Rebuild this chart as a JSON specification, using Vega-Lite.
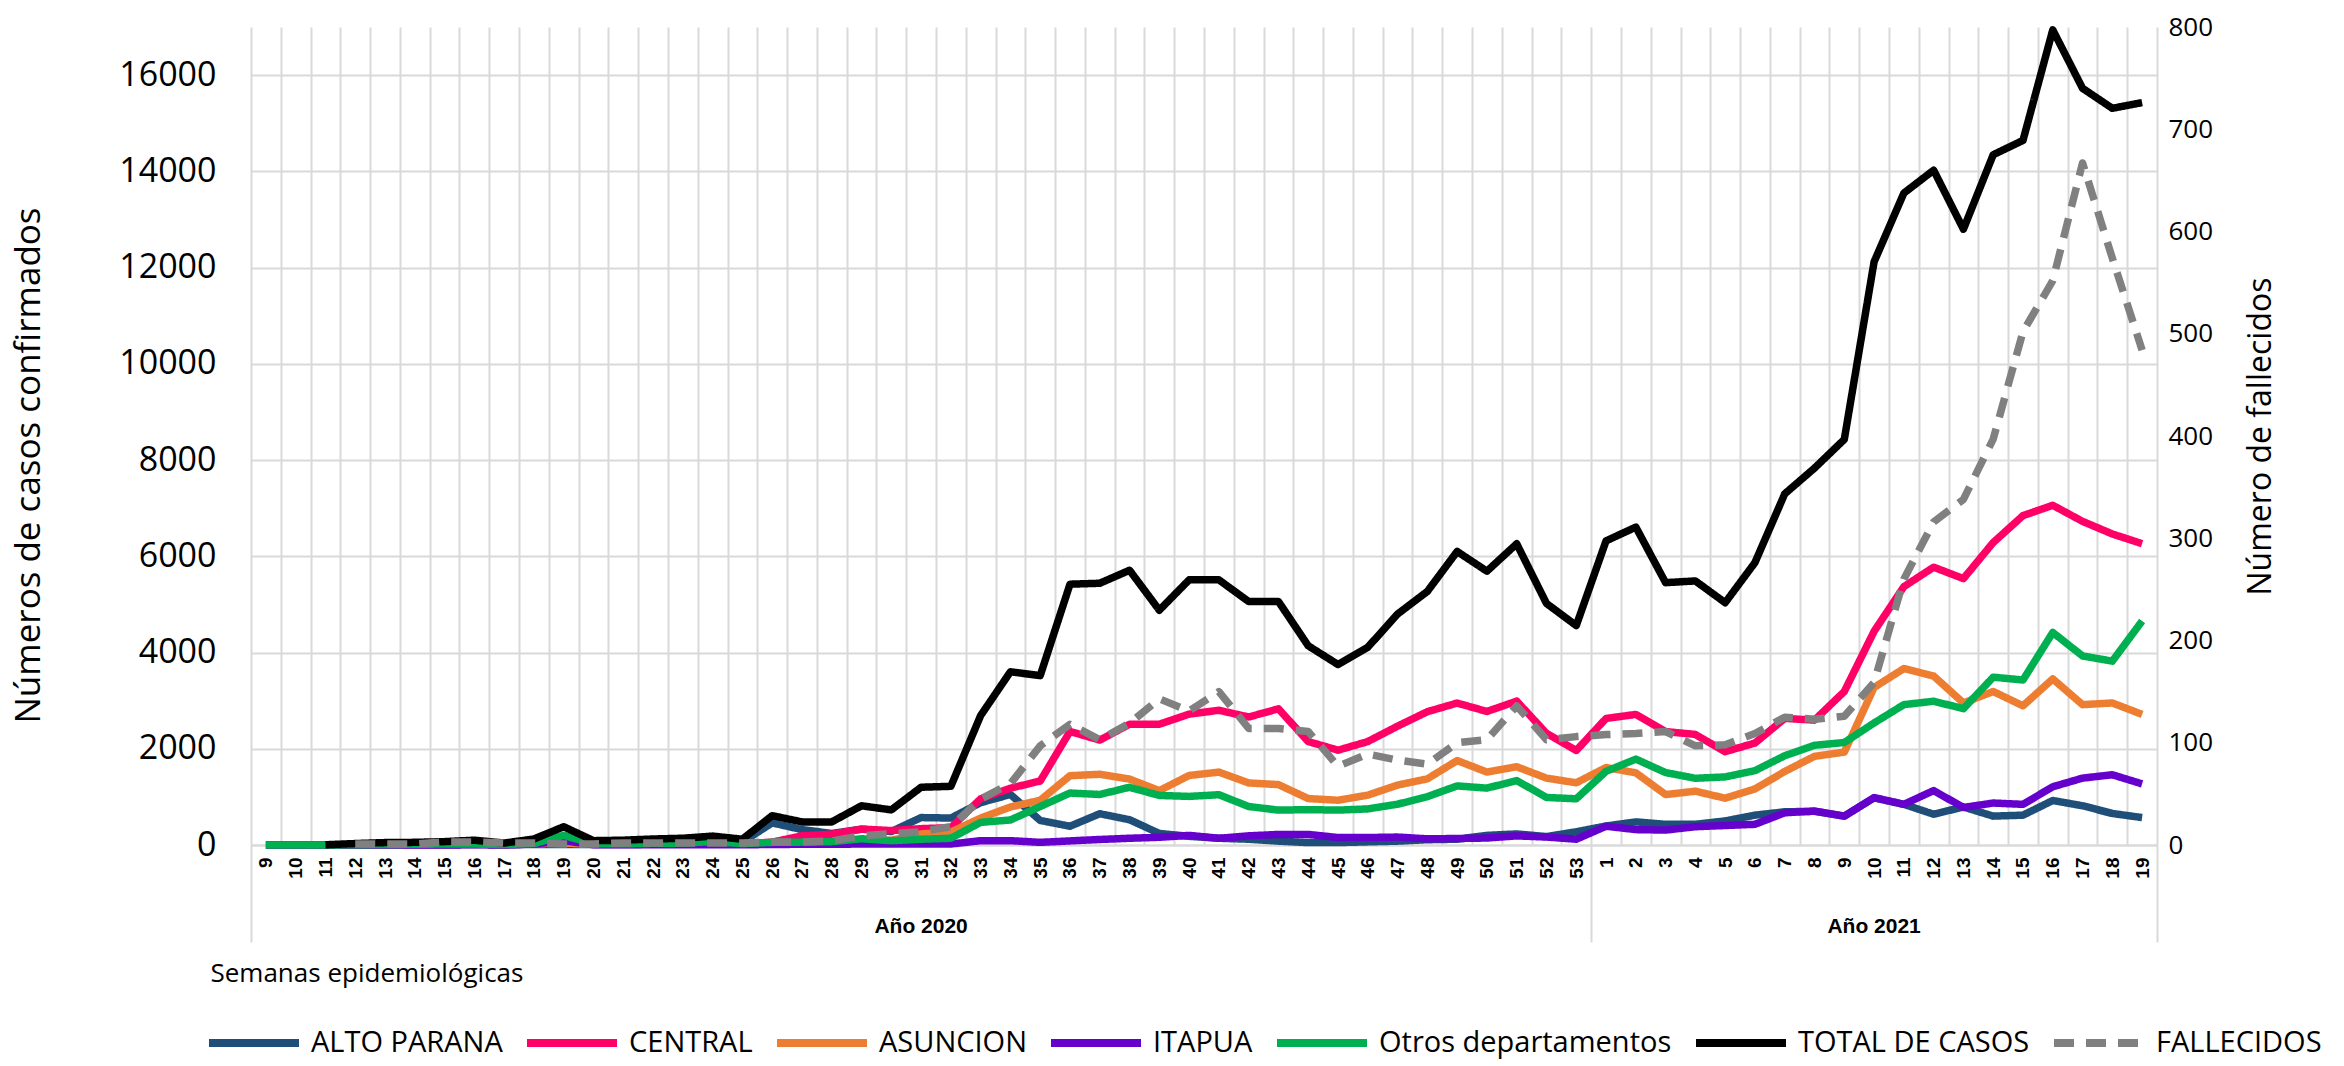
{
  "$schema": "https://vega.github.io/schema/vega-lite/v6.json",
  "width": 1906,
  "height": 818,
  "autosize": {"type": "none"},
  "padding": {"left": 251, "top": 27, "right": 187, "bottom": 221},
  "background": "white",
  "config": {
    "view": {"stroke": null},
    "font": "Open Sans",
    "axis": {"gridColor": "#D9D9D9", "gridWidth": 2, "domainColor": "#D9D9D9", "domainWidth": 2, "tickColor": "#D9D9D9", "labelColor": "#000000", "titleColor": "#000000", "titleFontWeight": "normal"},
    "legend": {"symbolType": "stroke", "symbolSize": 8100, "symbolStrokeWidth": 8, "labelFontSize": 29, "labelFont": "Open Sans", "labelColor": "#000000", "labelLimit": 0, "columnPadding": 8, "labelOffset": 8, "padding": 0}
  },
  "data": {"values": [
    {"sem": "2020-9", "ALTO PARANA": 0, "CENTRAL": 0, "ASUNCION": 0, "ITAPUA": 0, "Otros departamentos": 0, "TOTAL DE CASOS": null, "FALLECIDOS": null},
    {"sem": "2020-10", "ALTO PARANA": 0, "CENTRAL": 0, "ASUNCION": 0, "ITAPUA": 0, "Otros departamentos": 0, "TOTAL DE CASOS": null, "FALLECIDOS": null},
    {"sem": "2020-11", "ALTO PARANA": 0, "CENTRAL": 0, "ASUNCION": 0, "ITAPUA": 0, "Otros departamentos": 0, "TOTAL DE CASOS": 5, "FALLECIDOS": null},
    {"sem": "2020-12", "ALTO PARANA": 0, "CENTRAL": 10, "ASUNCION": 10, "ITAPUA": 0, "Otros departamentos": 5, "TOTAL DE CASOS": 30, "FALLECIDOS": 1},
    {"sem": "2020-13", "ALTO PARANA": 5, "CENTRAL": 15, "ASUNCION": 15, "ITAPUA": 0, "Otros departamentos": 10, "TOTAL DE CASOS": 50, "FALLECIDOS": 1},
    {"sem": "2020-14", "ALTO PARANA": 5, "CENTRAL": 15, "ASUNCION": 15, "ITAPUA": 0, "Otros departamentos": 15, "TOTAL DE CASOS": 55, "FALLECIDOS": 1},
    {"sem": "2020-15", "ALTO PARANA": 5, "CENTRAL": 20, "ASUNCION": 20, "ITAPUA": 0, "Otros departamentos": 20, "TOTAL DE CASOS": 70, "FALLECIDOS": 3},
    {"sem": "2020-16", "ALTO PARANA": 10, "CENTRAL": 30, "ASUNCION": 30, "ITAPUA": 5, "Otros departamentos": 20, "TOTAL DE CASOS": 100, "FALLECIDOS": 3},
    {"sem": "2020-17", "ALTO PARANA": 5, "CENTRAL": 10, "ASUNCION": 10, "ITAPUA": 0, "Otros departamentos": 10, "TOTAL DE CASOS": 40, "FALLECIDOS": 2},
    {"sem": "2020-18", "ALTO PARANA": 10, "CENTRAL": 30, "ASUNCION": 30, "ITAPUA": 20, "Otros departamentos": 30, "TOTAL DE CASOS": 125, "FALLECIDOS": 2},
    {"sem": "2020-19", "ALTO PARANA": 10, "CENTRAL": 40, "ASUNCION": 40, "ITAPUA": 90, "Otros departamentos": 200, "TOTAL DE CASOS": 380, "FALLECIDOS": 1},
    {"sem": "2020-20", "ALTO PARANA": 10, "CENTRAL": 25, "ASUNCION": 20, "ITAPUA": 5, "Otros departamentos": 25, "TOTAL DE CASOS": 90, "FALLECIDOS": 1},
    {"sem": "2020-21", "ALTO PARANA": 10, "CENTRAL": 30, "ASUNCION": 25, "ITAPUA": 5, "Otros departamentos": 25, "TOTAL DE CASOS": 100, "FALLECIDOS": 2},
    {"sem": "2020-22", "ALTO PARANA": 15, "CENTRAL": 35, "ASUNCION": 30, "ITAPUA": 5, "Otros departamentos": 35, "TOTAL DE CASOS": 125, "FALLECIDOS": 2},
    {"sem": "2020-23", "ALTO PARANA": 20, "CENTRAL": 40, "ASUNCION": 30, "ITAPUA": 5, "Otros departamentos": 40, "TOTAL DE CASOS": 140, "FALLECIDOS": 2},
    {"sem": "2020-24", "ALTO PARANA": 50, "CENTRAL": 45, "ASUNCION": 30, "ITAPUA": 5, "Otros departamentos": 70, "TOTAL DE CASOS": 185, "FALLECIDOS": 2},
    {"sem": "2020-25", "ALTO PARANA": 60, "CENTRAL": 20, "ASUNCION": 15, "ITAPUA": 5, "Otros departamentos": 30, "TOTAL DE CASOS": 120, "FALLECIDOS": 2},
    {"sem": "2020-26", "ALTO PARANA": 460, "CENTRAL": 60, "ASUNCION": 30, "ITAPUA": 10, "Otros departamentos": 55, "TOTAL DE CASOS": 610, "FALLECIDOS": 3},
    {"sem": "2020-27", "ALTO PARANA": 320, "CENTRAL": 190, "ASUNCION": 40, "ITAPUA": 15, "Otros departamentos": 60, "TOTAL DE CASOS": 480, "FALLECIDOS": 3},
    {"sem": "2020-28", "ALTO PARANA": 240, "CENTRAL": 225, "ASUNCION": 50, "ITAPUA": 15, "Otros departamentos": 70, "TOTAL DE CASOS": 480, "FALLECIDOS": 4},
    {"sem": "2020-29", "ALTO PARANA": 330, "CENTRAL": 330, "ASUNCION": 80, "ITAPUA": 20, "Otros departamentos": 130, "TOTAL DE CASOS": 815, "FALLECIDOS": 9},
    {"sem": "2020-30", "ALTO PARANA": 280, "CENTRAL": 300, "ASUNCION": 100, "ITAPUA": 20, "Otros departamentos": 90, "TOTAL DE CASOS": 730, "FALLECIDOS": 11},
    {"sem": "2020-31", "ALTO PARANA": 570, "CENTRAL": 340, "ASUNCION": 230, "ITAPUA": 20, "Otros departamentos": 120, "TOTAL DE CASOS": 1200, "FALLECIDOS": 13},
    {"sem": "2020-32", "ALTO PARANA": 560, "CENTRAL": 360, "ASUNCION": 270, "ITAPUA": 20, "Otros departamentos": 140, "TOTAL DE CASOS": 1220, "FALLECIDOS": 18},
    {"sem": "2020-33", "ALTO PARANA": 880, "CENTRAL": 960, "ASUNCION": 560, "ITAPUA": 90, "Otros departamentos": 470, "TOTAL DE CASOS": 2690, "FALLECIDOS": 45},
    {"sem": "2020-34", "ALTO PARANA": 1050, "CENTRAL": 1180, "ASUNCION": 790, "ITAPUA": 90, "Otros departamentos": 520, "TOTAL DE CASOS": 3600, "FALLECIDOS": 60},
    {"sem": "2020-35", "ALTO PARANA": 510, "CENTRAL": 1330, "ASUNCION": 930, "ITAPUA": 55, "Otros departamentos": 800, "TOTAL DE CASOS": 3520, "FALLECIDOS": 97},
    {"sem": "2020-36", "ALTO PARANA": 390, "CENTRAL": 2360, "ASUNCION": 1440, "ITAPUA": 85, "Otros departamentos": 1080, "TOTAL DE CASOS": 5420, "FALLECIDOS": 118},
    {"sem": "2020-37", "ALTO PARANA": 650, "CENTRAL": 2180, "ASUNCION": 1470, "ITAPUA": 115, "Otros departamentos": 1050, "TOTAL DE CASOS": 5440, "FALLECIDOS": 103},
    {"sem": "2020-38", "ALTO PARANA": 525, "CENTRAL": 2510, "ASUNCION": 1370, "ITAPUA": 140, "Otros departamentos": 1200, "TOTAL DE CASOS": 5710, "FALLECIDOS": 119},
    {"sem": "2020-39", "ALTO PARANA": 240, "CENTRAL": 2510, "ASUNCION": 1130, "ITAPUA": 160, "Otros departamentos": 1030, "TOTAL DE CASOS": 4880, "FALLECIDOS": 143},
    {"sem": "2020-40", "ALTO PARANA": 180, "CENTRAL": 2720, "ASUNCION": 1445, "ITAPUA": 200, "Otros departamentos": 1010, "TOTAL DE CASOS": 5510, "FALLECIDOS": 131},
    {"sem": "2020-41", "ALTO PARANA": 140, "CENTRAL": 2800, "ASUNCION": 1515, "ITAPUA": 140, "Otros departamentos": 1045, "TOTAL DE CASOS": 5510, "FALLECIDOS": 150},
    {"sem": "2020-42", "ALTO PARANA": 120, "CENTRAL": 2660, "ASUNCION": 1290, "ITAPUA": 190, "Otros departamentos": 800, "TOTAL DE CASOS": 5060, "FALLECIDOS": 114},
    {"sem": "2020-43", "ALTO PARANA": 80, "CENTRAL": 2830, "ASUNCION": 1255, "ITAPUA": 220, "Otros departamentos": 725, "TOTAL DE CASOS": 5060, "FALLECIDOS": 114},
    {"sem": "2020-44", "ALTO PARANA": 50, "CENTRAL": 2150, "ASUNCION": 965, "ITAPUA": 220, "Otros departamentos": 735, "TOTAL DE CASOS": 4140, "FALLECIDOS": 111},
    {"sem": "2020-45", "ALTO PARANA": 50, "CENTRAL": 1970, "ASUNCION": 930, "ITAPUA": 155, "Otros departamentos": 725, "TOTAL DE CASOS": 3750, "FALLECIDOS": 77},
    {"sem": "2020-46", "ALTO PARANA": 65, "CENTRAL": 2150, "ASUNCION": 1036, "ITAPUA": 155, "Otros departamentos": 750, "TOTAL DE CASOS": 4110, "FALLECIDOS": 89},
    {"sem": "2020-47", "ALTO PARANA": 80, "CENTRAL": 2470, "ASUNCION": 1245, "ITAPUA": 165, "Otros departamentos": 848, "TOTAL DE CASOS": 4800, "FALLECIDOS": 83},
    {"sem": "2020-48", "ALTO PARANA": 110, "CENTRAL": 2770, "ASUNCION": 1375, "ITAPUA": 128, "Otros departamentos": 1005, "TOTAL DE CASOS": 5270, "FALLECIDOS": 79},
    {"sem": "2020-49", "ALTO PARANA": 120, "CENTRAL": 2950, "ASUNCION": 1755, "ITAPUA": 135, "Otros departamentos": 1228, "TOTAL DE CASOS": 6100, "FALLECIDOS": 100},
    {"sem": "2020-50", "ALTO PARANA": 200, "CENTRAL": 2775, "ASUNCION": 1516, "ITAPUA": 145, "Otros departamentos": 1182, "TOTAL DE CASOS": 5690, "FALLECIDOS": 103},
    {"sem": "2020-51", "ALTO PARANA": 230, "CENTRAL": 2990, "ASUNCION": 1627, "ITAPUA": 190, "Otros departamentos": 1340, "TOTAL DE CASOS": 6260, "FALLECIDOS": 136},
    {"sem": "2020-52", "ALTO PARANA": 175, "CENTRAL": 2320, "ASUNCION": 1390, "ITAPUA": 165, "Otros departamentos": 988, "TOTAL DE CASOS": 5020, "FALLECIDOS": 103},
    {"sem": "2020-53", "ALTO PARANA": 275, "CENTRAL": 1964, "ASUNCION": 1293, "ITAPUA": 120, "Otros departamentos": 960, "TOTAL DE CASOS": 4560, "FALLECIDOS": 106},
    {"sem": "2021-1", "ALTO PARANA": 395, "CENTRAL": 2630, "ASUNCION": 1610, "ITAPUA": 390, "Otros departamentos": 1530, "TOTAL DE CASOS": 6320, "FALLECIDOS": 108},
    {"sem": "2021-2", "ALTO PARANA": 480, "CENTRAL": 2714, "ASUNCION": 1500, "ITAPUA": 320, "Otros departamentos": 1785, "TOTAL DE CASOS": 6607, "FALLECIDOS": 109},
    {"sem": "2021-3", "ALTO PARANA": 430, "CENTRAL": 2357, "ASUNCION": 1048, "ITAPUA": 310, "Otros departamentos": 1505, "TOTAL DE CASOS": 5452, "FALLECIDOS": 111},
    {"sem": "2021-4", "ALTO PARANA": 430, "CENTRAL": 2298, "ASUNCION": 1118, "ITAPUA": 380, "Otros departamentos": 1387, "TOTAL DE CASOS": 5488, "FALLECIDOS": 97},
    {"sem": "2021-5", "ALTO PARANA": 500, "CENTRAL": 1940, "ASUNCION": 973, "ITAPUA": 405, "Otros departamentos": 1415, "TOTAL DE CASOS": 5036, "FALLECIDOS": 98},
    {"sem": "2021-6", "ALTO PARANA": 620, "CENTRAL": 2119, "ASUNCION": 1165, "ITAPUA": 430, "Otros departamentos": 1545, "TOTAL DE CASOS": 5869, "FALLECIDOS": 109},
    {"sem": "2021-7", "ALTO PARANA": 690, "CENTRAL": 2631, "ASUNCION": 1528, "ITAPUA": 670, "Otros departamentos": 1855, "TOTAL DE CASOS": 7298, "FALLECIDOS": 125},
    {"sem": "2021-8", "ALTO PARANA": 700, "CENTRAL": 2595, "ASUNCION": 1843, "ITAPUA": 705, "Otros departamentos": 2072, "TOTAL DE CASOS": 7833, "FALLECIDOS": 123},
    {"sem": "2021-9", "ALTO PARANA": 600, "CENTRAL": 3190, "ASUNCION": 1930, "ITAPUA": 600, "Otros departamentos": 2130, "TOTAL DE CASOS": 8429, "FALLECIDOS": 126},
    {"sem": "2021-10", "ALTO PARANA": 980, "CENTRAL": 4440, "ASUNCION": 3274, "ITAPUA": 985, "Otros departamentos": 2536, "TOTAL DE CASOS": 12119, "FALLECIDOS": 159},
    {"sem": "2021-11", "ALTO PARANA": 845, "CENTRAL": 5369, "ASUNCION": 3667, "ITAPUA": 845, "Otros departamentos": 2917, "TOTAL DE CASOS": 13548, "FALLECIDOS": 260},
    {"sem": "2021-12", "ALTO PARANA": 640, "CENTRAL": 5774, "ASUNCION": 3512, "ITAPUA": 1131, "Otros departamentos": 2988, "TOTAL DE CASOS": 14024, "FALLECIDOS": 316},
    {"sem": "2021-13", "ALTO PARANA": 790, "CENTRAL": 5536, "ASUNCION": 2952, "ITAPUA": 780, "Otros departamentos": 2833, "TOTAL DE CASOS": 12798, "FALLECIDOS": 338},
    {"sem": "2021-14", "ALTO PARANA": 600, "CENTRAL": 6286, "ASUNCION": 3190, "ITAPUA": 872, "Otros departamentos": 3488, "TOTAL DE CASOS": 14345, "FALLECIDOS": 397},
    {"sem": "2021-15", "ALTO PARANA": 620, "CENTRAL": 6845, "ASUNCION": 2893, "ITAPUA": 845, "Otros departamentos": 3429, "TOTAL DE CASOS": 14643, "FALLECIDOS": 502},
    {"sem": "2021-16", "ALTO PARANA": 925, "CENTRAL": 7060, "ASUNCION": 3452, "ITAPUA": 1210, "Otros departamentos": 4417, "TOTAL DE CASOS": 16940, "FALLECIDOS": 552},
    {"sem": "2021-17", "ALTO PARANA": 815, "CENTRAL": 6726, "ASUNCION": 2917, "ITAPUA": 1390, "Otros departamentos": 3929, "TOTAL DE CASOS": 15726, "FALLECIDOS": 667},
    {"sem": "2021-18", "ALTO PARANA": 655, "CENTRAL": 6464, "ASUNCION": 2952, "ITAPUA": 1460, "Otros departamentos": 3821, "TOTAL DE CASOS": 15310, "FALLECIDOS": 574},
    {"sem": "2021-19", "ALTO PARANA": 570, "CENTRAL": 6262, "ASUNCION": 2714, "ITAPUA": 1270, "Otros departamentos": 4655, "TOTAL DE CASOS": 15429, "FALLECIDOS": 484}
  ]},
  "resolve": {"scale": {"y": "independent"}, "axis": {"x": "independent", "y": "independent"}},
  "layer": [
    {
      "transform": [{"fold": ["ALTO PARANA", "CENTRAL", "ASUNCION", "ITAPUA", "Otros departamentos", "TOTAL DE CASOS"], "as": ["serie", "casos"]}],
      "mark": {"type": "line", "strokeWidth": 7.5, "strokeJoin": "round", "strokeCap": "butt"},
      "encoding": {
        "x": {"field": "sem", "type": "ordinal", "sort": null, "bandPosition": 0.5,
          "scale": {"type": "band", "paddingInner": 0, "paddingOuter": 0},
          "axis": {"orient": "bottom", "title": null, "tickBand": "extent", "grid": true, "gridColor": "#D9D9D9", "gridWidth": 2,
            "ticks": true, "tickSize": 97, "tickWidth": 2, "tickColor": "#D9D9D9",
            "tickOpacity": {"condition": {"test": "datum.extra || datum.value === '2020-53' || datum.value === '2021-19'", "value": 1}, "value": 0},
            "domain": true, "labelAngle": -90, "labelExpr": "split(datum.value, '-')[1]",
            "labelFont": "Liberation Sans", "labelFontWeight": "bold", "labelFontSize": 19, "labelPadding": -85}},
        "y": {"field": "casos", "type": "quantitative", "scale": {"domain": [0, 17000], "nice": false},
          "axis": {"title": "Números de casos confirmados", "values": [0, 2000, 4000, 6000, 8000, 10000, 12000, 14000, 16000], "format": "d",
            "grid": true, "domain": false, "ticks": false, "tickSize": 0, "labelPadding": 35, "labelFontSize": 34,
            "titleFontSize": 35, "titleAngle": -90, "titleX": -223, "titleY": 438, "titleBaseline": "middle", "titleAlign": "center"}},
        "color": {"field": "serie", "type": "nominal",
          "scale": {"domain": ["ALTO PARANA", "CENTRAL", "ASUNCION", "ITAPUA", "Otros departamentos", "TOTAL DE CASOS", "FALLECIDOS"],
                    "range": ["#1F4E79", "#FF0066", "#ED7D31", "#6600CC", "#00B050", "#000000", "#808080"]},
          "legend": {"title": null, "orient": "none", "legendX": -46, "legendY": 967, "direction": "horizontal", "columns": 7}},
        "strokeDash": {"field": "serie", "type": "nominal",
          "scale": {"domain": ["ALTO PARANA", "CENTRAL", "ASUNCION", "ITAPUA", "Otros departamentos", "TOTAL DE CASOS", "FALLECIDOS"],
                    "range": [[1, 0], [1, 0], [1, 0], [1, 0], [1, 0], [1, 0], [20, 12]]},
          "legend": {"title": null, "orient": "none", "legendX": -46, "legendY": 967, "direction": "horizontal", "columns": 7}}
      }
    },
    {
      "transform": [{"fold": ["FALLECIDOS"], "as": ["serie", "valor"]}],
      "mark": {"type": "line", "strokeWidth": 7.5, "strokeJoin": "round", "strokeCap": "butt"},
      "encoding": {
        "x": {"field": "sem", "type": "ordinal", "sort": null, "bandPosition": 0.5,
          "scale": {"type": "band", "paddingInner": 0, "paddingOuter": 0},
          "axis": {"orient": "bottom", "title": "Semanas epidemiológicas", "values": ["2020-31", "2021-10"],
            "labelExpr": "datum.value === '2020-31' ? 'Año 2020' : 'Año 2021'",
            "ticks": false, "tickSize": 0, "domain": false, "grid": false, "labelAngle": 0, "labelPadding": 70,
            "labelFont": "Liberation Sans", "labelFontWeight": "bold", "labelFontSize": 21,
            "titleFont": "Open Sans", "titleFontSize": 26, "titleX": -41, "titleY": 128, "titleAlign": "left", "titleBaseline": "middle", "titleAnchor": "start"}},
        "y": {"field": "valor", "type": "quantitative", "scale": {"domain": [0, 800], "nice": false},
          "axis": {"orient": "right", "title": "Número de fallecidos", "values": [0, 100, 200, 300, 400, 500, 600, 700, 800],
            "grid": false, "domain": false, "ticks": false, "tickSize": 0, "labelPadding": 11, "labelFontSize": 26,
            "titleFontSize": 32, "titleAngle": -90, "titleX": 103, "titleY": 409, "titleBaseline": "middle", "titleAlign": "center"}},
        "color": {"field": "serie", "type": "nominal",
          "scale": {"domain": ["ALTO PARANA", "CENTRAL", "ASUNCION", "ITAPUA", "Otros departamentos", "TOTAL DE CASOS", "FALLECIDOS"],
                    "range": ["#1F4E79", "#FF0066", "#ED7D31", "#6600CC", "#00B050", "#000000", "#808080"]},
          "legend": {"title": null, "orient": "none", "legendX": -46, "legendY": 967, "direction": "horizontal", "columns": 7}},
        "strokeDash": {"field": "serie", "type": "nominal",
          "scale": {"domain": ["ALTO PARANA", "CENTRAL", "ASUNCION", "ITAPUA", "Otros departamentos", "TOTAL DE CASOS", "FALLECIDOS"],
                    "range": [[1, 0], [1, 0], [1, 0], [1, 0], [1, 0], [1, 0], [20, 12]]},
          "legend": {"title": null, "orient": "none", "legendX": -46, "legendY": 967, "direction": "horizontal", "columns": 7}}
      }
    }
  ]
}
